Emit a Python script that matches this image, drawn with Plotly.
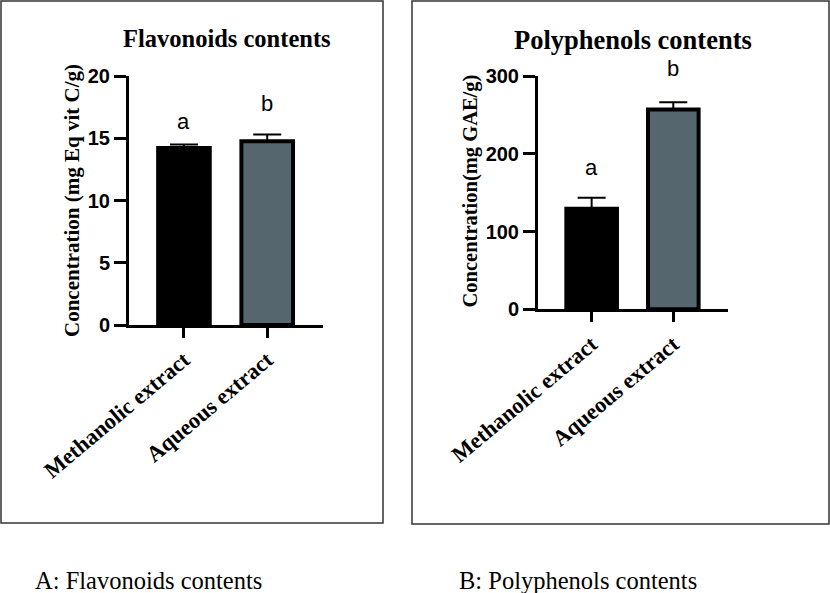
import plotly.graph_objects as go

# ---- data ----
categories = ["Methanolic extract", "Aqueous extract"]
flav_values = [14.22, 14.75]
flav_errors = [0.28, 0.56]
flav_letters = ["a", "b"]
poly_values = [129.4, 256.9]
poly_errors = [14.0, 9.3]
poly_letters = ["a", "b"]
flav_ticks = [0, 5, 10, 15, 20]
poly_ticks = [0, 100, 200, 300]

W, H = 830, 593
BAR_COLORS = ["#000000", "#56666e"]
SERIF = "Liberation Serif, Times New Roman, serif"
SANS = "Liberation Sans, Arial, sans-serif"

fig = go.Figure()

def add_bars(values, errors, xa, ya):
    fig.add_trace(go.Bar(
        x=categories, y=values, xaxis=xa, yaxis=ya,
        width=0.62,
        marker=dict(color=BAR_COLORS, line=dict(color="black", width=4)),
        error_y=dict(type="data", array=errors, arrayminus=[0, 0], symmetric=False,
                     color="black", thickness=2, width=14),
        showlegend=False, hoverinfo="skip",
    ))

add_bars(flav_values, flav_errors, "x", "y")
add_bars(poly_values, poly_errors, "x2", "y2")

def px_x(p):
    return p / W

def px_y(p):
    return 1 - p / H

axis_common = dict(showline=True, linewidth=3, linecolor="black", showgrid=False,
                   zeroline=False, ticks="outside", tickwidth=3, tickcolor="black",
                   automargin=False)

xfont = dict(family=SERIF, size=22.5, color="black", weight="bold")
yfont = dict(family=SANS, size=20, color="black", weight="bold")

fig.update_layout(
    width=W, height=H,
    autosize=False,
    margin=dict(l=0, r=0, t=0, b=0, pad=0, autoexpand=False),
    paper_bgcolor="white", plot_bgcolor="white",
    showlegend=False,
    bargap=0.3,
    xaxis=dict(domain=[px_x(129), px_x(323)], range=[-0.66, 1.67], anchor="y",
               ticklen=10, tickangle=-40, tickfont=xfont, **axis_common),
    yaxis=dict(domain=[px_y(325), px_y(76)], range=[0, 20], anchor="x",
               tickvals=flav_ticks, ticklen=12, tickfont=yfont, **axis_common),
    xaxis2=dict(domain=[px_x(538), px_x(728)], range=[-0.657, 1.67], anchor="y2",
                ticklen=10, tickangle=-40, tickfont=xfont, **axis_common),
    yaxis2=dict(domain=[px_y(309.3), px_y(76)], range=[0, 300], anchor="x2",
                tickvals=poly_ticks, ticklen=12, tickfont=yfont, **axis_common),
)

# panel borders
for (x0, x1, y0, y1) in [(1, 383, 1, 523), (412, 829, 1, 524)]:
    fig.add_shape(type="rect", xref="paper", yref="paper",
                  x0=px_x(x0), x1=px_x(x1), y0=px_y(y1), y1=px_y(y0),
                  line=dict(color="#333333", width=1.5), fillcolor="rgba(0,0,0,0)")

# significance letters (pixel offsets above error caps)
flav_shift = [8, 16]
poly_shift = [16, 19]
for i, cat in enumerate(categories):
    fig.add_annotation(x=cat, y=flav_values[i] + flav_errors[i], xref="x", yref="y",
                       text=flav_letters[i], showarrow=False, yanchor="bottom", yshift=flav_shift[i],
                       font=dict(family=SANS, size=22, color="black"))
    fig.add_annotation(x=cat, y=poly_values[i] + poly_errors[i], xref="x2", yref="y2",
                       text=poly_letters[i], showarrow=False, yanchor="bottom", yshift=poly_shift[i],
                       font=dict(family=SANS, size=22, color="black"))

# panel titles
fig.add_annotation(x=px_x(226.5), y=px_y(39), xref="paper", yref="paper",
                   text="Flavonoids contents", showarrow=False, xanchor="center", yanchor="middle",
                   font=dict(family=SERIF, size=24.5, color="black", weight="bold"))
fig.add_annotation(x=px_x(633), y=px_y(40), xref="paper", yref="paper",
                   text="Polyphenols contents", showarrow=False, xanchor="center", yanchor="middle",
                   font=dict(family=SERIF, size=26.5, color="black", weight="bold"))

# y-axis titles
fig.add_annotation(x=px_x(72), y=px_y(201), xref="paper", yref="paper",
                   text="Concentration (mg Eq vit C/g)", showarrow=False, textangle=-90,
                   xanchor="center", yanchor="middle",
                   font=dict(family=SERIF, size=21, color="black", weight="bold"))
fig.add_annotation(x=px_x(470), y=px_y(191.5), xref="paper", yref="paper",
                   text="Concentration(mg GAE/g)", showarrow=False, textangle=-90,
                   xanchor="center", yanchor="middle",
                   font=dict(family=SERIF, size=20.5, color="black", weight="bold"))

# captions
fig.add_annotation(x=px_x(33), y=px_y(580), xref="paper", yref="paper",
                   text="A: Flavonoids contents", showarrow=False, xanchor="left", yanchor="middle",
                   font=dict(family=SERIF, size=24.5, color="black"))
fig.add_annotation(x=px_x(457), y=px_y(580), xref="paper", yref="paper",
                   text="B: Polyphenols contents", showarrow=False, xanchor="left", yanchor="middle",
                   font=dict(family=SERIF, size=24.5, color="black"))

fig.write_html("out.html", config={"displayModeBar": False},
               post_script="document.body.style.margin='0';document.body.style.overflow='hidden';")
